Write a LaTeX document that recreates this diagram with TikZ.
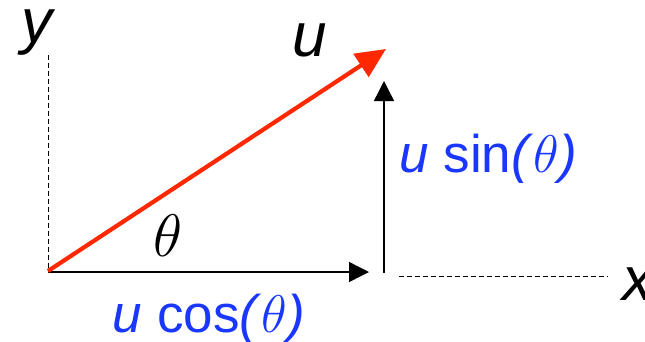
\documentclass[tikz,border=0pt]{standalone}
\usepackage{fix-cm}
\usepackage{fontspec}
\setmainfont{Liberation Sans}
\usetikzlibrary{arrows.meta}
\definecolor{vecred}{RGB}{255,40,0}
\definecolor{compblue}{RGB}{25,55,255}
\begin{document}
\begin{tikzpicture}[x=1pt,y=-1pt,
  axislabel/.style={inner sep=0pt,anchor=base,font=\fontsize{62}{62}\selectfont\itshape},
  complabel/.style={inner sep=0pt,anchor=base,text=compblue,font=\fontsize{53}{53}\selectfont},
  anglelabel/.style={inner sep=0pt,anchor=base,font=\fontsize{60}{60}\selectfont},
  axisline/.style={draw=black,line width=1pt,dash pattern=on 5pt off 3pt},
  compvec/.style={draw=black,line width=1.4pt,-{Triangle[length=20pt,width=20pt]}},
  mainvec/.style={draw=vecred,line width=4.2pt,-{Triangle[length=30pt,width=27pt]}}]
\useasboundingbox (0,0) rectangle (645,341);
% points
\coordinate (O) at (48,271);
\coordinate (ytop) at (48,52);
\coordinate (ybot) at (48,268);
\coordinate (U) at (386,49);
\coordinate (H) at (369,272);
\coordinate (V0) at (384,273);
\coordinate (V1) at (384,81);
\coordinate (xa) at (399,276);
\coordinate (xb) at (608,276);
% axes
\draw[axisline] (ybot) -- (ytop);
\draw[axisline] (xa) -- (xb);
% components
\draw[compvec] (O) ++(0,1) -- (H);
\draw[compvec] (V0) -- (V1);
% main vector
\draw[mainvec] (O) -- (U);
% labels
\node[axislabel] (ylab) at (37,42) {y};
\node[axislabel] (ulab) at (310,56) {u};
\node[axislabel] (xlab) at (638,300) {x};
\node[anglelabel] (th) at (168,256) {$\theta$};
\node[complabel] (cosl) at (209,332) {\textit{u} cos\textit{(}$\theta$\textit{)}};
\node[complabel] (sinl) at (488,172) {\textit{u} sin\textit{(}$\theta$\textit{)}};
\end{tikzpicture}
\end{document}
